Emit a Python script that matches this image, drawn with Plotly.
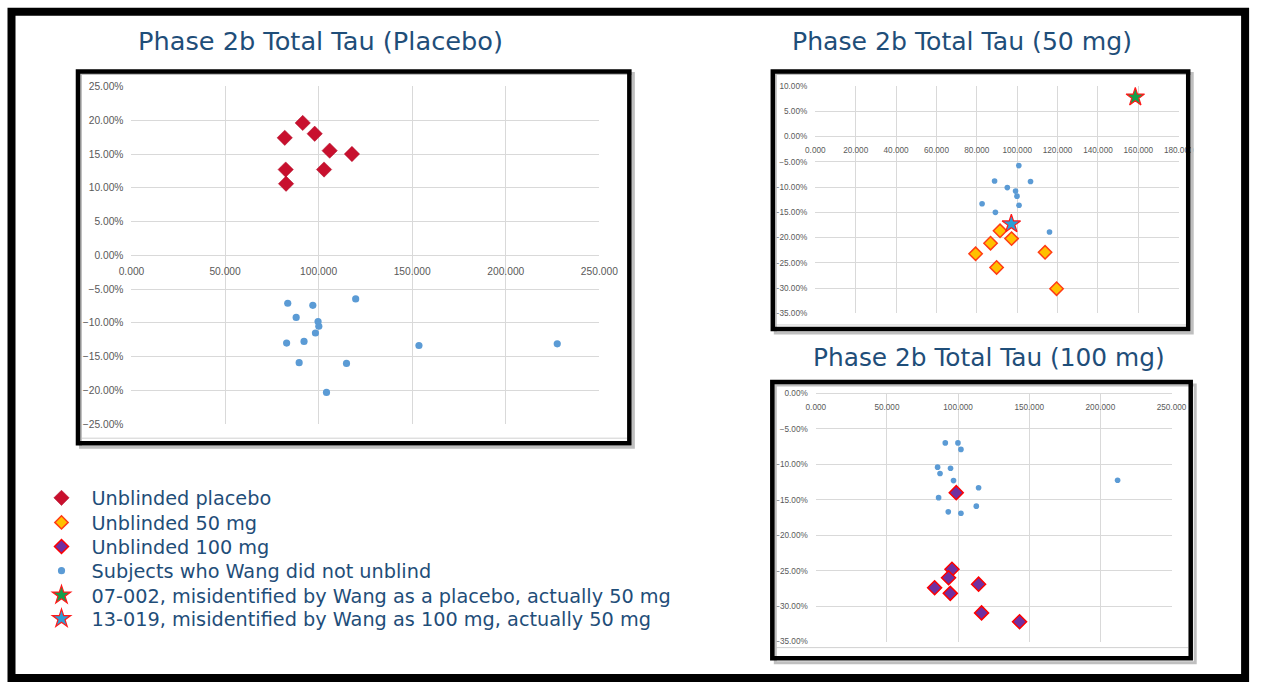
import plotly.graph_objects as go

W, H = 1268, 688

# The photographed picture is a slightly reduced copy of the page
# (picture = OFFSET + SCALE * page).  Positions below are pixels of the
# reference picture and are mapped back to page pixels with the inverse.
SX, OX = 0.975, 12.5
SY, OY = 0.982, 5.7
FS = 1 / SX  # size compensation for fonts and markers

# ---------------- data (x in thousands, y in %) ----------------
placebo_unblinded_x = [81.9, 91.5, 97.9, 105.9, 117.8, 82.4, 102.9, 82.6]
placebo_unblinded_y = [17.4, 19.6, 18.0, 15.5, 15.0, 12.7, 12.7, 10.6]
placebo_blind_x = [83.5, 96.9, 88.0, 99.7, 100.1, 98.3, 82.9, 92.2, 89.6, 114.9, 104.2, 119.8, 153.6, 227.5]
placebo_blind_y = [-7.1, -7.4, -9.2, -9.8, -10.5, -11.5, -13.0, -12.75, -15.9, -16.0, -20.3, -6.45, -13.35, -13.1]

mg50_unblinded_x = [91.5, 97.2, 86.8, 79.4, 89.8, 113.8, 119.5]
mg50_unblinded_y = [-18.65, -20.2, -21.1, -23.2, -25.9, -22.9, -30.1]
mg50_blind_x = [100.8, 88.8, 95.1, 99.2, 99.9, 100.9, 82.6, 89.2, 106.6, 116.0]
mg50_blind_y = [-5.75, -8.8, -10.1, -10.8, -11.8, -13.6, -13.3, -15.0, -8.9, -18.9]
star_07002_x = [158.5]
star_07002_y = [7.8]
star_13019_x = [97.1]
star_13019_y = [-17.3]

mg100_unblinded_x = [98.7, 95.7, 93.3, 83.5, 94.5, 114.4, 116.5, 143.2]
mg100_unblinded_y = [-14.0, -24.8, -26.0, -27.4, -28.2, -26.9, -30.95, -32.2]
mg100_blind_x = [91.0, 99.9, 102.0, 85.6, 87.3, 94.7, 96.8, 114.4, 86.3, 112.8, 93.1, 102.0, 212.1]
mg100_blind_y = [-6.98, -6.98, -7.9, -10.4, -11.3, -10.55, -12.3, -13.3, -14.7, -15.9, -16.7, -16.9, -12.25]

titles = ["Phase 2b Total Tau (Placebo)", "Phase 2b Total Tau (50 mg)", "Phase 2b Total Tau (100 mg)"]
legend_labels = [
    "Unblinded placebo",
    "Unblinded 50 mg",
    "Unblinded 100 mg",
    "Subjects who Wang did not unblind",
    "07-002, misidentified by Wang as a placebo, actually 50 mg",
    "13-019, misidentified by Wang as 100 mg, actually 50 mg",
]

# ---------------- helpers (reference pixel -> paper fraction) ----------------
def px_x(r):
    return ((r - OX) / SX) / W

def px_y(r):
    return 1 - ((r - OY) / SY) / H

def pct(vals):
    return [v / 100 for v in vals]

def sz(v):
    return round(v * FS, 2)

RED = "#c8102e"
BLUE = "#5b9bd5"
ORANGE = "#ffc000"
PURPLE = "#7030a0"
GREEN = "#12a04a"
STARBLUE = "#2a9fd8"
TXT = "#1f4e79"

fig = go.Figure()

# placebo panel
fig.add_trace(go.Scatter(x=placebo_unblinded_x, y=pct(placebo_unblinded_y), mode="markers",
                         name=legend_labels[0], legend="legend",
                         marker=dict(symbol="diamond", size=sz(11.5), color=RED, line=dict(color="#b00d28", width=0.5)),
                         xaxis="x", yaxis="y"))
fig.add_trace(go.Scatter(x=placebo_blind_x, y=pct(placebo_blind_y), mode="markers",
                         name=legend_labels[3], legend="legend4", legendgroup="blind",
                         marker=dict(symbol="circle", size=sz(7), color=BLUE),
                         xaxis="x", yaxis="y"))

# 50 mg panel
fig.add_trace(go.Scatter(x=mg50_blind_x, y=pct(mg50_blind_y), mode="markers",
                         name=legend_labels[3], legendgroup="blind", showlegend=False,
                         marker=dict(symbol="circle", size=sz(5.5), color=BLUE),
                         xaxis="x2", yaxis="y2"))
fig.add_trace(go.Scatter(x=mg50_unblinded_x, y=pct(mg50_unblinded_y), mode="markers",
                         name=legend_labels[1], legend="legend2",
                         marker=dict(symbol="diamond", size=sz(10), color=ORANGE, line=dict(color="#ff3c14", width=1.5)),
                         xaxis="x2", yaxis="y2"))
fig.add_trace(go.Scatter(x=star_07002_x, y=pct(star_07002_y), mode="markers",
                         name=legend_labels[4], legend="legend5",
                         marker=dict(symbol="star", size=sz(13.5), color=GREEN, line=dict(color="#ff1a1a", width=1.2)),
                         xaxis="x2", yaxis="y2"))
fig.add_trace(go.Scatter(x=star_13019_x, y=pct(star_13019_y), mode="markers",
                         name=legend_labels[5], legend="legend6",
                         marker=dict(symbol="star", size=sz(13.5), color=STARBLUE, line=dict(color="#ff1a1a", width=1.2)),
                         xaxis="x2", yaxis="y2"))

# 100 mg panel
fig.add_trace(go.Scatter(x=mg100_blind_x, y=pct(mg100_blind_y), mode="markers",
                         name=legend_labels[3], legendgroup="blind", showlegend=False,
                         marker=dict(symbol="circle", size=sz(5.5), color=BLUE),
                         xaxis="x3", yaxis="y3"))
fig.add_trace(go.Scatter(x=mg100_unblinded_x, y=pct(mg100_unblinded_y), mode="markers",
                         name=legend_labels[2], legend="legend3",
                         marker=dict(symbol="diamond", size=sz(10.5), color=PURPLE, line=dict(color="#ff0000", width=1.5)),
                         xaxis="x3", yaxis="y3"))

GRID = "#d9d9d9"
TICK = "#595959"

def xax(dom, rng, dtick, pos, size):
    return dict(domain=[px_x(dom[0]), px_x(dom[1])], range=rng, dtick=dtick, tick0=0,
                tickformat=".3f", showgrid=True, gridcolor=GRID, gridwidth=1,
                zeroline=False, showline=True, linecolor=GRID, linewidth=1,
                anchor="free", position=pos, ticks="", ticklabelstandoff=6,
                tickfont=dict(family="Liberation Sans", size=sz(size), color=TICK), fixedrange=True)

def yax(dom, rng, size, anchor):
    return dict(domain=[px_y(dom[1]), px_y(dom[0])], range=rng, dtick=0.05, tick0=0,
                tickformat=".2%", showgrid=True, gridcolor=GRID, gridwidth=1,
                zeroline=False, showline=False, ticks="", ticklabelstandoff=7,
                anchor=anchor, side="left",
                tickfont=dict(family="Liberation Sans", size=sz(size), color=TICK), fixedrange=True)

fig.update_layout(
    xaxis=xax((131, 599), [0, 250], 50, px_y(255.5), 10),
    yaxis=yax((87, 424), [-0.25, 0.25], 10, "x"),
    xaxis2=xax((815, 1178.5), [0, 180], 20, px_y(136.9), 8),
    yaxis2=yax((86.5, 313.5), [-0.35, 0.10], 8, "x2"),
    xaxis3=xax((815.5, 1171.3), [0, 250], 50, px_y(393.3), 8),
    yaxis3=yax((393.3, 641), [-0.35, 0], 8, "x3"),
)

# titles
title_pos = [(320.5, 42), (961.5, 42), (989, 357)]
title_size = [25, 24.5, 24.2]
ann = []
for t, (cx, cy), ts in zip(titles, title_pos, title_size):
    ann.append(dict(text=t, x=px_x(cx), y=px_y(cy), xref="paper", yref="paper",
                    xanchor="center", yanchor="middle", showarrow=False,
                    font=dict(family="DejaVu Sans", size=sz(ts), color=TXT)))

# frames and decorations
shapes = []
def rect(x0, y0, x1, y1, w, color="black"):
    return dict(type="rect", xref="paper", yref="paper", x0=px_x(x0), x1=px_x(x1),
                y0=px_y(y0), y1=px_y(y1), line=dict(color=color, width=w), layer="above")
def hline(x0, x1, y, color="#d0d0d0"):
    return dict(type="line", xref="paper", yref="paper", x0=px_x(x0), x1=px_x(x1),
                y0=px_y(y), y1=px_y(y), line=dict(color=color, width=1), layer="below")

shapes += [hline(80, 627, 438), hline(775, 1186, 325), hline(774, 1188, 647)]
shapes += [rect(80, 74, 633, 447, 3, "#bfbfbf"), rect(775, 74, 1192, 333, 3, "#bfbfbf"), rect(775, 385, 1195, 662, 3, "#bfbfbf")]
shapes += [rect(77.5, 72, 629, 443, 4.5), rect(772.5, 72, 1188, 329, 4.5), rect(772, 382, 1190.5, 657.5, 4.5)]
# outer frame: as close to the reference edges as the page allows
shapes += [dict(type="rect", xref="paper", yref="paper", x0=px_x(11), x1=1 - 4 / W,
                y0=4 / H, y1=px_y(12.5), line=dict(color="black", width=8), layer="above")]

# legends: one per row so the rows sit exactly where they do in the reference
row_y = [498, 522.5, 546.5, 570.7, 595, 618.5]
legend_names = ["legend", "legend2", "legend3", "legend4", "legend5", "legend6"]
leg_layout = {}
for name, ry in zip(legend_names, row_y):
    leg_layout[name] = dict(x=px_x(31), y=px_y(ry), xanchor="left", yanchor="middle",
                            bgcolor="rgba(0,0,0,0)", borderwidth=0, itemwidth=50,
                            font=dict(family="DejaVu Sans", size=sz(18.8), color=TXT),
                            itemclick=False, itemdoubleclick=False)

fig.update_layout(
    width=W, height=H, margin=dict(l=0, r=0, t=0, b=0),
    paper_bgcolor="white", plot_bgcolor="white",
    annotations=ann, shapes=shapes, showlegend=True,
    **leg_layout,
)

fig.write_html("out.html", config={"displayModeBar": False},
               post_script="document.body.style.margin='0';document.body.style.overflow='hidden';")
